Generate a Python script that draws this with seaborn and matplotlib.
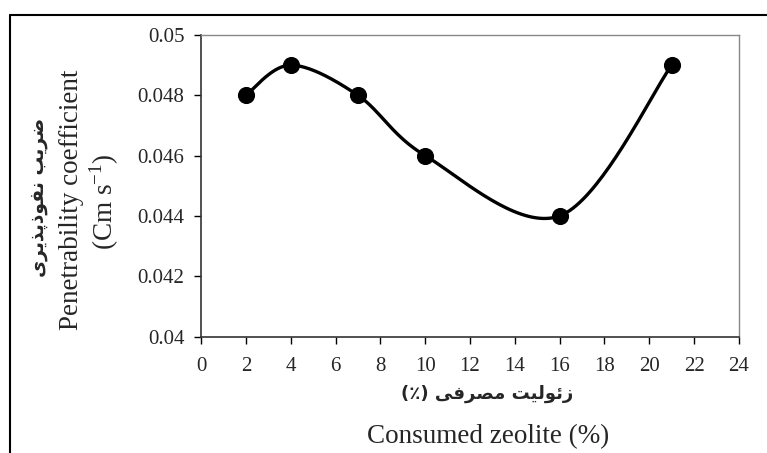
import numpy as np
import pandas as pd
import seaborn as sns
import matplotlib.pyplot as plt
from matplotlib.lines import Line2D

# data
zeolite = [2, 4, 7, 10, 16, 21]
penetrability = [0.048, 0.049, 0.048, 0.046, 0.044, 0.049]
x_ticks = list(range(0, 25, 2))
y_ticks = [0.04, 0.042, 0.044, 0.046, 0.048, 0.05]
y_tick_labels = ["0.04", "0.042", "0.044", "0.046", "0.048", "0.05"]

# Persian labels, written as shaped glyphs in visual (left to right) order
fa_y_words = [[0xFEBF, 0xFEAE, 0xFBFE, 0xFE90],
              [0xFEE7, 0xFED4, 0xFEEE, 0xFEAB, 0xFB58, 0xFEAC, 0xFBFE, 0xFEAE, 0xFBFC]]
fa_x_words = [[0xFEAF, 0xFE8B, 0xFEEE, 0xFEDF, 0xFBFF, 0xFE96],
              [0xFEE3, 0xFEBC, 0xFEAE, 0xFED3, 0xFBFD]]


def visual(words, tail=""):
    parts = ["".join(chr(c) for c in reversed(w)) for w in reversed(words)]
    return (tail + " " if tail else "") + " ".join(parts)


fa_ylabel = visual(fa_y_words)
fa_xlabel = visual(fa_x_words, "(\u066A)")


def smooth(xs, ys, sx, sy, n=40):
    # Excel-like smoothed line (cubic bezier through the points)
    p = np.column_stack([np.asarray(xs, float) * sx, np.asarray(ys, float) * sy])
    ext = np.vstack([p[0], p, p[-1]])
    t = np.linspace(0, 1, n)[:, None]
    segs = []
    for i in range(len(p) - 1):
        p0, p1, p2, p3 = ext[i], ext[i + 1], ext[i + 2], ext[i + 3]
        c1 = p1 + (p2 - p0) / 6
        c2 = p2 - (p3 - p1) / 6
        segs.append((1 - t) ** 3 * p1 + 3 * (1 - t) ** 2 * t * c1
                    + 3 * (1 - t) * t ** 2 * c2 + t ** 3 * p2)
    s = np.vstack(segs)
    return s[:, 0] / sx, s[:, 1] / sy


sns.set_style("ticks")
plt.rcParams["font.family"] = ["Liberation Serif", "DejaVu Sans"]
plt.rcParams["mathtext.fontset"] = "custom"
plt.rcParams["mathtext.rm"] = "Liberation Serif"

W, H = 767, 453
fig = plt.figure(figsize=(W / 100, H / 100), dpi=100)
left, right, top, bottom = 201, 739, 35, 336.5
ax = fig.add_axes([left / W, 1 - bottom / H, (right - left) / W, (bottom - top) / H])

df = pd.DataFrame({"zeolite": zeolite, "coef": penetrability})
cx, cy = smooth(df["zeolite"], df["coef"], (right - left) / 24, (bottom - top) / 0.01)
curve = pd.DataFrame({"x": cx, "y": cy})
sns.lineplot(data=curve, x="x", y="y", sort=False, color="black", linewidth=2.4, ax=ax)
sns.scatterplot(data=df, x="zeolite", y="coef", color="black", s=130,
                edgecolor="black", zorder=3, ax=ax)

ax.set_xlim(0, 24)
ax.set_ylim(0.04, 0.05)
ax.set_xticks(x_ticks)
ax.set_yticks(y_ticks)
ax.set_yticklabels(y_tick_labels)
ax.set_xlabel("")
ax.set_ylabel("")
ax.tick_params(direction="out", length=5, width=1, color="black", labelsize=15)
ax.tick_params(axis="x", pad=10)
ax.tick_params(axis="y", pad=7)
for side in ["left", "bottom"]:
    ax.spines[side].set_color("#333333")
    ax.spines[side].set_linewidth(1.2)
for side in ["top", "right"]:
    ax.spines[side].set_visible(True)
    ax.spines[side].set_color("#888888")
    ax.spines[side].set_linewidth(1.0)

# axis titles (Persian + English)
fig.text(39 / W, 1 - 197 / H, fa_ylabel, rotation=90, ha="center", va="center",
         fontsize=13.5, family=["DejaVu Sans"], fontweight="bold")
fig.text(72 / W, 1 - 200 / H, "Penetrability coefficient", rotation=90,
         ha="center", va="center", fontsize=19.5)
fig.text(104 / W, 1 - 202 / H, r"(Cm s$^{\mathregular{-1}}$)", rotation=90,
         ha="center", va="center", fontsize=19.5)
fig.text(487 / W, 1 - 394 / H, fa_xlabel, ha="center", va="center",
         fontsize=13, family=["DejaVu Sans"], fontweight="bold")
fig.text(488 / W, 1 - 437 / H, "Consumed zeolite (%)", ha="center", va="center",
         fontsize=19.5)

# outer frame of the original figure
fig.add_artist(Line2D([10 / W, 1], [1 - 15 / H, 1 - 15 / H], color="black", lw=1.5))
fig.add_artist(Line2D([10 / W, 10 / W], [0, 1 - 15 / H], color="black", lw=1.5))

fig.savefig("out.png", dpi=100)
